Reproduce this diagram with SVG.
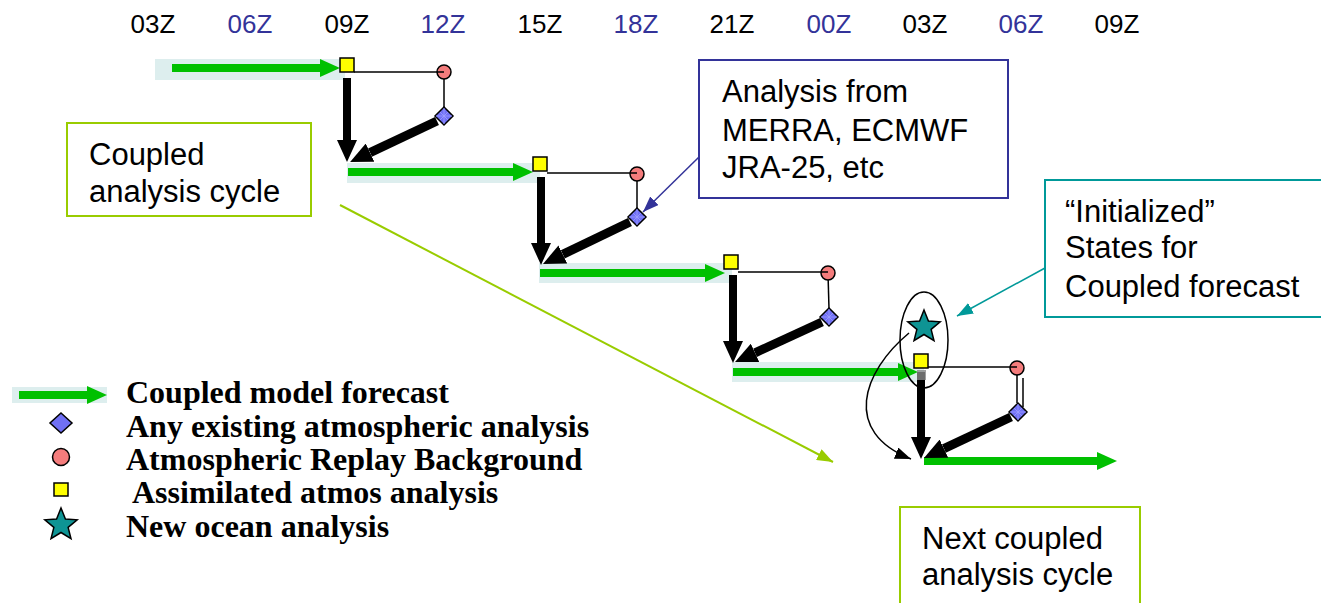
<svg xmlns="http://www.w3.org/2000/svg" xmlns:xlink="http://www.w3.org/1999/xlink" width="1321" height="603" viewBox="0 0 1321 603">
<style>
.t{font-family:"Liberation Sans",Arial,sans-serif;font-size:26px;text-anchor:middle}
.tk{fill:#000}
.tb{fill:#333399}
.box{font-family:"Liberation Sans",Arial,sans-serif;font-size:31px;fill:#000}
.leg{font-family:"Liberation Serif","Times New Roman",serif;font-size:32px;font-weight:bold;fill:#000}
.band{fill:#DDEEEE}
.grn{stroke:#00C000;stroke-width:8;fill:none;marker-end:url(#gh)}
.blk{stroke:#000;stroke-width:8;fill:none;marker-end:url(#bh)}
.thin{stroke:#000;stroke-width:1.5;fill:none}
.sq{fill:#FFFF00;stroke:#000;stroke-width:1.5}
.ci{fill:#F47C7C;stroke:#000;stroke-width:1.5}
.di{fill:#7070F5;stroke:#000;stroke-width:1.5}
.st{fill:#0E9494;stroke:#000;stroke-width:1.5}
</style>
<defs>
<marker id="gh" markerUnits="userSpaceOnUse" viewBox="0 0 20 18" refX="0" refY="9" markerWidth="20" markerHeight="18" orient="auto"><path d="M0,0 L20,9 L0,18 Z" fill="#00C000"/></marker>
<marker id="bh" markerUnits="userSpaceOnUse" viewBox="0 0 22 20" refX="0" refY="10" markerWidth="22" markerHeight="20" orient="auto"><path d="M0,0 L22,10 L0,20 Z" fill="#000"/></marker>
<marker id="kh" markerUnits="userSpaceOnUse" viewBox="0 0 16 12" refX="16" refY="6" markerWidth="16" markerHeight="12" orient="auto"><path d="M0,0 L16,6 L0,12 Z" fill="#000"/></marker>
<marker id="uh" markerUnits="userSpaceOnUse" viewBox="0 0 16 12" refX="16" refY="6" markerWidth="16" markerHeight="12" orient="auto"><path d="M0,0 L16,6 L0,12 Z" fill="#333399"/></marker>
<marker id="th" markerUnits="userSpaceOnUse" viewBox="0 0 16 12" refX="16" refY="6" markerWidth="16" markerHeight="12" orient="auto"><path d="M0,0 L16,6 L0,12 Z" fill="#009999"/></marker>
<marker id="yh" markerUnits="userSpaceOnUse" viewBox="0 0 16 12" refX="16" refY="6" markerWidth="16" markerHeight="12" orient="auto"><path d="M0,0 L16,6 L0,12 Z" fill="#99CC00"/></marker>
<rect id="sq" class="sq" x="-7" y="-7" width="14" height="14"/>
<circle id="ci" class="ci" r="7"/>
<g id="di"><path class="di" d="M0,-9 L9,0 L0,9 L-9,0 Z"/><path d="M-4,-4 L4,4 M-4,4 L4,-4 M0,-8 V8 M-8,0 H8" stroke="#A0A0FF" stroke-width="0.8"/></g>
<polygon id="star" class="st" points="0,-17 4.41,-6.07 16.17,-5.25 7.13,2.32 9.99,13.75 0,7.5 -9.99,13.75 -7.13,2.32 -16.17,-5.25 -4.41,-6.07"/>
</defs>
<rect width="1321" height="603" fill="#fff"/>

<g id="time-axis">
<text class="t tk" x="153" y="33">03Z</text>
<text class="t tb" x="250" y="33">06Z</text>
<text class="t tk" x="347" y="33">09Z</text>
<text class="t tb" x="443" y="33">12Z</text>
<text class="t tk" x="540" y="33">15Z</text>
<text class="t tb" x="636" y="33">18Z</text>
<text class="t tk" x="732" y="33">21Z</text>
<text class="t tb" x="829" y="33">00Z</text>
<text class="t tk" x="925" y="33">03Z</text>
<text class="t tb" x="1021" y="33">06Z</text>
<text class="t tk" x="1117" y="33">09Z</text>
</g>

<g id="bands">
<rect class="band" x="155" y="59" width="190" height="21"/>
<rect class="band" x="347" y="163" width="193" height="20"/>
<rect class="band" x="539" y="263" width="193" height="20"/>
<rect class="band" x="732" y="362" width="192" height="20"/>
</g>

<g id="connectors">
<line class="grn" x1="172" y1="68" x2="320" y2="68"/>
<line class="grn" x1="348" y1="172" x2="513" y2="172"/>
<line class="grn" x1="540" y1="273" x2="705" y2="273"/>
<line class="grn" x1="733" y1="372" x2="898" y2="372"/>
<line class="grn" x1="924" y1="461" x2="1097" y2="461"/>
<line class="thin" x1="354" y1="72" x2="444" y2="72"/>
<line class="thin" x1="444" y1="72" x2="444" y2="108"/>
<line class="thin" x1="547" y1="173" x2="637" y2="173"/>
<line class="thin" x1="637" y1="174" x2="637" y2="209"/>
<line class="thin" x1="738" y1="272" x2="828" y2="272"/>
<line class="thin" x1="828" y1="273" x2="829" y2="309"/>
<line class="thin" x1="928" y1="367" x2="1017" y2="367"/>
<line class="thin" x1="1017" y1="368" x2="1017" y2="403"/>
<line class="thin" x1="1023" y1="378" x2="1023" y2="407"/>
<line class="blk" x1="347" y1="78" x2="347" y2="140"/>
<line class="blk" x1="541" y1="177" x2="541" y2="243"/>
<line class="blk" x1="733" y1="275" x2="733" y2="341"/>
<line class="blk" x1="921" y1="372" x2="921" y2="437"/>
<line class="blk" x1="437" y1="121" x2="370" y2="152.6" style="stroke-width:9"/>
<line class="blk" x1="630" y1="222" x2="562.8" y2="254.4" style="stroke-width:9"/>
<line class="blk" x1="822" y1="322" x2="755" y2="352.8" style="stroke-width:9"/>
<line class="blk" x1="1011" y1="417" x2="943.9" y2="448.6" style="stroke-width:9"/>
<path class="thin" d="M909,333 C862,372 842,432 911,459" marker-end="url(#kh)"/>
<line x1="699" y1="157" x2="643" y2="212" stroke="#333399" stroke-width="1.5" marker-end="url(#uh)"/>
<line x1="1045" y1="268" x2="957" y2="316" stroke="#009999" stroke-width="1.5" marker-end="url(#th)"/>
<line x1="340" y1="205" x2="833" y2="462" stroke="#99CC00" stroke-width="2" marker-end="url(#yh)"/>
</g>

<g id="cycle1">
<use xlink:href="#sq" x="347" y="65"/>
<use xlink:href="#ci" x="444" y="72"/>
<line class="thin" x1="437" y1="72" x2="444" y2="72"/>
<use xlink:href="#di" x="444" y="116"/>
</g>
<g id="cycle2">
<use xlink:href="#sq" x="540" y="164"/>
<use xlink:href="#ci" x="637" y="174"/>
<line class="thin" x1="630" y1="173" x2="637" y2="173"/>
<use xlink:href="#di" x="637" y="217"/>
</g>
<g id="cycle3">
<use xlink:href="#sq" x="731" y="262"/>
<use xlink:href="#ci" x="828" y="273"/>
<line class="thin" x1="821" y1="272" x2="828" y2="272"/>
<use xlink:href="#di" x="829" y="317"/>
</g>
<g id="cycle4">
<use xlink:href="#sq" x="921" y="361"/>
<rect x="917" y="370" width="9" height="10" fill="#888" opacity="0.8"/>
<use xlink:href="#ci" x="1017" y="368"/>
<line class="thin" x1="1010" y1="367" x2="1017" y2="367"/>
<use xlink:href="#di" x="1018" y="412"/>
</g>

<g id="initialized-states">
<ellipse cx="924" cy="340" rx="24" ry="48" fill="none" stroke="#000" stroke-width="1.5"/>
<use xlink:href="#star" x="924" y="327"/>
</g>

<g id="box-coupled-cycle">
<rect x="67" y="123" width="244" height="93" fill="#fff" stroke="#99CC00" stroke-width="2"/>
<text class="box" x="89" y="165">Coupled</text>
<text class="box" x="89" y="202">analysis cycle</text>
</g>

<g id="box-analysis">
<rect x="699" y="60" width="309" height="138" fill="#fff" stroke="#333399" stroke-width="2"/>
<text class="box" x="722" y="102">Analysis from</text>
<text class="box" x="722" y="141">MERRA, ECMWF</text>
<text class="box" x="722" y="178">JRA-25, etc</text>
</g>

<g id="box-initialized">
<rect x="1045" y="180" width="300" height="137" fill="#fff" stroke="#009999" stroke-width="2"/>
<text class="box" x="1065" y="222">“Initialized”</text>
<text class="box" x="1065" y="258">States for</text>
<text class="box" x="1065" y="297">Coupled forecast</text>
</g>

<g id="box-next-cycle">
<rect x="900" y="507" width="240" height="120" fill="#fff" stroke="#99CC00" stroke-width="2"/>
<text class="box" x="922" y="549">Next coupled</text>
<text class="box" x="922" y="585">analysis cycle</text>
</g>

<g id="legend">
<rect class="band" x="12" y="387" width="95" height="16"/>
<line class="grn" x1="19" y1="395" x2="87" y2="395"/>
<text class="leg" x="126" y="403">Coupled model forecast</text>
<path class="di" d="M61,413 L72,423 L61,433 L50,423 Z"/>
<text class="leg" x="126" y="437">Any existing atmospheric analysis</text>
<circle class="ci" cx="61" cy="457" r="8.5"/>
<text class="leg" x="126" y="470">Atmospheric Replay Background</text>
<rect class="sq" x="54" y="483" width="14" height="13"/>
<text class="leg" x="132" y="503">Assimilated atmos analysis</text>
<use xlink:href="#star" x="61" y="525"/>
<text class="leg" x="126" y="537">New ocean analysis</text>
</g>
</svg>
